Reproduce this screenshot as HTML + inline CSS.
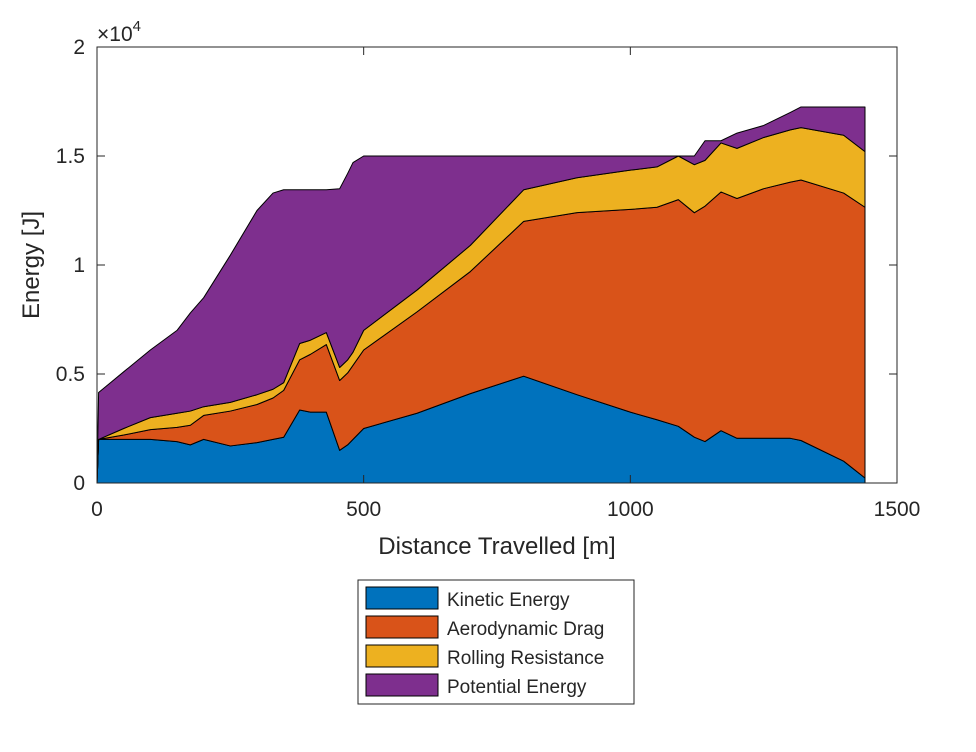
<!DOCTYPE html>
<html><head><meta charset="utf-8"><style>
body{margin:0;background:#fff;}
svg text{font-family:"Liberation Sans",Arial,sans-serif;fill:#262626;}
</style></head><body>
<svg id="c" width="976" height="747"></svg>
<script>
const distance=[0,3,50,100,150,175,200,250,300,330,350,380,400,430,455,470,480,500,600,700,800,900,1000,1050,1090,1120,1140,1170,1200,1250,1300,1320,1400,1440];
const kinetic=[0,2000,2000,2000,1900,1750,2000,1700,1850,2000,2100,3350,3250,3250,1500,1750,2000,2500,3200,4100,4900,4050,3250,2900,2600,2100,1900,2400,2050,2050,2050,1950,1000,230];
const drag=[0,0,200,450,650,900,1100,1600,1750,1900,2150,2300,2650,3100,3200,3300,3400,3600,4650,5600,7100,8350,9300,9750,10400,10300,10800,10950,11000,11450,11750,11950,12300,12420];
const rolling=[0,0,300,550,650,650,400,400,450,400,350,750,650,550,600,600,600,900,1000,1200,1450,1600,1800,1850,2000,2200,2100,2250,2300,2350,2400,2400,2650,2550];
const potential=[0,2150,2600,3100,3800,4500,5000,6750,8450,9000,8850,7050,6900,6550,8200,8550,8700,8000,6150,4100,1550,1000,650,500,0,400,900,100,700,550,800,950,1300,2050];
const seriesNames=["Kinetic Energy","Aerodynamic Drag","Rolling Resistance","Potential Energy"];
const xTicks=[0,500,1000,1500];
const yTicks=[0,5000,10000,15000,20000];
const yTickLabels=["0","0.5","1","1.5","2"];

const NS="http://www.w3.org/2000/svg",svg=document.getElementById('c');
const L=97,R=897,T=47,B=483;
const X=v=>L+(v-0)/1500*(R-L), Y=v=>B-v/20000*(B-T);
function mk(t,a,p){const e=document.createElementNS(NS,t);for(const k in a)e.setAttribute(k,a[k]);(p||svg).appendChild(e);return e;}
const colors=["#0072BD","#D95319","#EDB120","#7E2F8E"];
const series=[kinetic,drag,rolling,potential];
let base=distance.map(()=>0);
series.forEach((s,i)=>{
  const top=base.map((b,j)=>b+s[j]);
  let d="M"+distance.map((x,j)=>X(x)+","+Y(top[j])).join(" L");
  for(let j=distance.length-1;j>=0;j--)d+=" L"+X(distance[j])+","+Y(base[j]);
  const p=mk('path',{d:d+"Z",fill:colors[i],stroke:"#000","stroke-width":1,"stroke-linejoin":"round"});
  
  
  base=top;
});
const ax=mk('rect',{x:L,y:T,width:R-L,height:B-T,fill:"none",stroke:"#262626","stroke-width":1});


xTicks.forEach(v=>{
  mk('line',{x1:X(v),x2:X(v),y1:B,y2:B-8,stroke:"#262626"});
  mk('line',{x1:X(v),x2:X(v),y1:T,y2:T+8,stroke:"#262626"});
  const t=mk('text',{x:X(v),y:B+33,"text-anchor":"middle","font-size":21});t.textContent=v;
  
  
});
yTicks.forEach((v,i)=>{
  mk('line',{x1:L,x2:L+8,y1:Y(v),y2:Y(v),stroke:"#262626"});
  mk('line',{x1:R,x2:R-8,y1:Y(v),y2:Y(v),stroke:"#262626"});
  const t=mk('text',{x:L-12,y:Y(v)+7,"text-anchor":"end","font-size":21});t.textContent=yTickLabels[i];
  
  
});
const ex=mk('text',{x:97,y:41,"font-size":21});ex.innerHTML='×10<tspan dy="-10" font-size="15">4</tspan>';


const xl=mk('text',{x:497,y:554,"text-anchor":"middle","font-size":24});xl.textContent="Distance Travelled [m]";


const yl=mk('text',{x:39,y:265,"text-anchor":"middle","font-size":24,transform:"rotate(-90 39 265)"});yl.textContent="Energy [J]";


const lg=mk('g',{});


mk('rect',{x:358,y:580,width:276,height:124,fill:"#fff",stroke:"#262626"},lg);
seriesNames.forEach((n,i)=>{
  const y=587+i*29;
  const g=mk('g',{},lg);
  
  
  mk('rect',{x:366,y:y,width:72,height:22,fill:colors[i],stroke:"#000"},g);
  const t=mk('text',{x:447,y:y+19,"font-size":19},g);t.textContent=n;
});
</script>
</body></html>
